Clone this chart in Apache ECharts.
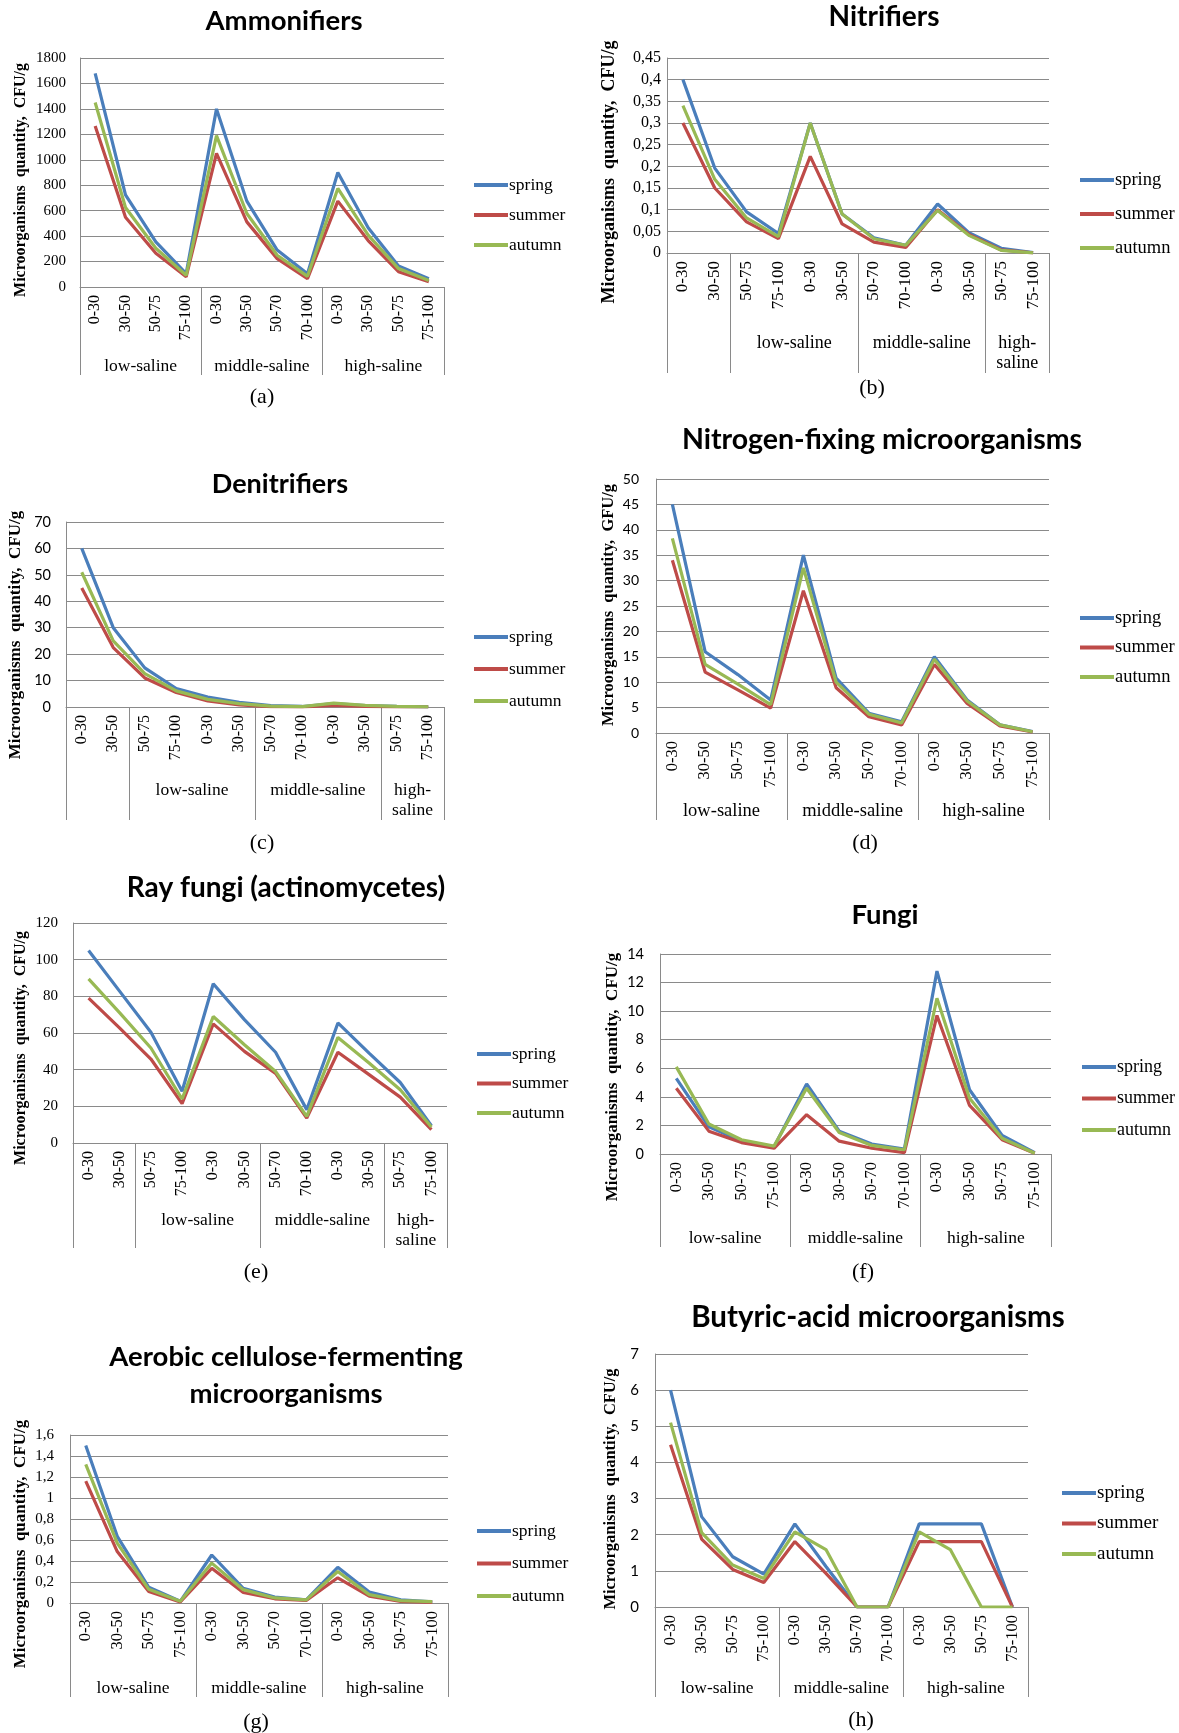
<!DOCTYPE html>
<html><head><meta charset="utf-8">
<script src="https://cdn.jsdelivr.net/npm/echarts@6/dist/echarts.min.js"></script>
<style>html,body{margin:0;padding:0;background:#fff}#c{width:1179px;height:1733px}</style>
</head><body><div id="c"></div>
<script>
// ---------- DATA ----------
const categories = ['0-30','30-50','50-75','75-100','0-30','30-50','50-70','70-100','0-30','30-50','50-75','75-100'];
const seasons = ['spring','summer','autumn'];
const seasonColors = ['#4A7EBB','#BE4B48','#98B954'];

const groupsStd = ['low-saline','middle-saline','high-saline'];
const boundsStd = [0,4,8,12];
const groupsShift = ['','low-saline','middle-saline','high-\nsaline'];
const boundsShift = [0,2,6,10,12];

const ammonifiersSpring = [1680, 725, 355, 105, 1400, 675, 290, 105, 900, 465, 165, 65];
const ammonifiersSummer = [1265, 548, 265, 80, 1050, 512, 223, 66, 675, 365, 120, 42];
const ammonifiersAutumn = [1450, 625, 305, 92, 1190, 578, 250, 84, 775, 408, 145, 52];

const nitrifiersSpring = [0.40, 0.196, 0.095, 0.045, 0.30, 0.09, 0.035, 0.018, 0.113, 0.046, 0.011, 0.001];
const nitrifiersSummer = [0.30, 0.15, 0.072, 0.033, 0.223, 0.067, 0.025, 0.013, 0.10, 0.042, 0.007, 0.0005];
const nitrifiersAutumn = [0.34, 0.17, 0.081, 0.038, 0.30, 0.09, 0.033, 0.018, 0.098, 0.04, 0.006, 0.0005];

const denitrifiersSpring = [60, 30, 14.8, 7, 3.8, 1.8, 0.5, 0.2, 1.3, 0.5, 0.2, 0.05];
const denitrifiersSummer = [45, 22.5, 11, 5.5, 2.3, 0.8, 0.1, 0, 0.6, 0.2, 0.05, 0];
const denitrifiersAutumn = [51, 25, 12.6, 6.1, 2.9, 1.3, 0.3, 0.15, 1.5, 0.6, 0.2, 0.05];

const nfixSpring = [45, 16, 11.5, 6.5, 35, 10.8, 3.9, 2.2, 15, 6.5, 1.6, 0.3];
const nfixSummer = [34, 12, 8.5, 4.9, 28, 8.9, 3.2, 1.6, 13.5, 5.8, 1.4, 0.2];
const nfixAutumn = [38.3, 13.5, 9.6, 5.6, 32.5, 10, 3.7, 2, 14.5, 6.3, 1.6, 0.25];

const rayFungiSpring = [105, 82.7, 60.4, 28.2, 86.9, 67.3, 49.5, 18.2, 65.5, 49, 33, 9.5];
const rayFungiSummer = [79, 62.7, 45.8, 21.5, 65, 50, 38, 13.6, 49.5, 37.3, 25, 7.3];
const rayFungiAutumn = [89.5, 71, 51.8, 24, 69, 53.6, 39, 14.5, 57.6, 43.6, 29, 8.7];

const fungiSpring = [5.3, 1.9, 0.9, 0.5, 4.9, 1.6, 0.7, 0.35, 12.8, 4.5, 1.3, 0.1];
const fungiSummer = [4.6, 1.6, 0.8, 0.4, 2.75, 0.9, 0.4, 0.1, 9.7, 3.4, 1.0, 0.05];
const fungiAutumn = [6.1, 2.1, 1.0, 0.55, 4.6, 1.5, 0.6, 0.3, 10.9, 3.9, 1.1, 0.05];

const celluloseSpring = [1.5, 0.635, 0.15, 0.016, 0.457, 0.14, 0.057, 0.03, 0.34, 0.105, 0.03, 0.01];
const celluloseSummer = [1.16, 0.49, 0.11, 0.01, 0.33, 0.1, 0.04, 0.025, 0.24, 0.065, 0.016, 0.006];
const celluloseAutumn = [1.32, 0.57, 0.13, 0.016, 0.38, 0.127, 0.048, 0.03, 0.3, 0.08, 0.022, 0.013];

const butyricSpring = [6, 2.5, 1.39, 0.91, 2.3, 1.12, 0, 0, 2.3, 2.3, 2.3, 0];
const butyricSummer = [4.49, 1.88, 1.04, 0.68, 1.81, 0.93, 0, 0, 1.81, 1.81, 1.81, 0];
const butyricAutumn = [5.1, 2.06, 1.16, 0.79, 2.08, 1.59, 0, 0, 2.08, 1.59, 0, 0];

const titles = [['Ammonifiers'], ['Nitrifiers'], ['Denitrifiers'], ['Nitrogen-fixing microorganisms'],
  ['Ray fungi (actinomycetes)'], ['Fungi'], ['Aerobic cellulose-fermenting','microorganisms'], ['Butyric-acid microorganisms']];
const subLabels = ['(a)','(b)','(c)','(d)','(e)','(f)','(g)','(h)'];
const yNames = ['Microorganisms  quantity,  CFU/g','Microorganisms  quantity,  CFU/g','Microorganisms  quantity,  CFU/g',
  'Microorganisms  quantity,  GFU/g','Microorganisms  quantity,  CFU/g','Microorganisms  quantity,  CFU/g',
  'Microorganisms  quantity,  CFU/g','Microorganisms  quantity,  CFU/g'];
const yMaxes = [1800, 0.45, 70, 50, 120, 14, 1.6, 7];
const ySteps = [200, 0.05, 10, 5, 20, 2, 0.2, 1];

// ---------- LAYOUT ----------
const SERIF = 'Liberation Serif';
const SANS = 'Lato';
const GRAY = '#8a8a8a';

const panels = [
  {data:[ammonifiersSpring, ammonifiersSummer, ammonifiersAutumn], groups:groupsStd, bounds:boundsStd, yFont:SERIF, ySize:15,
   grid:{left:80, top:58, width:364, height:229}, boxH:88, gMargin:69, yMargin:14, catSize:16, gSize:17.5,
   title:{x:284, y:[21], size:27.5}, name:{x:21, y:180, size:16}, legend:{x:469, y:182, gap:30, size:17.5}, sub:{x:262, y:397}},
  {data:[nitrifiersSpring, nitrifiersSummer, nitrifiersAutumn], groups:groupsShift, bounds:boundsShift, yFont:SERIF, ySize:16,
   grid:{left:667, top:58, width:382, height:195}, boxH:120, gMargin:80, yMargin:6, catSize:17, gSize:18,
   title:{x:884, y:[17], size:28}, name:{x:609, y:172, size:18}, legend:{x:1075, y:177, gap:34, size:18.5}, sub:{x:872, y:388}},
  {data:[denitrifiersSpring, denitrifiersSummer, denitrifiersAutumn], groups:groupsShift, bounds:boundsShift, yFont:SANS, ySize:14.5,
   grid:{left:66, top:522, width:378, height:185}, boxH:113, gMargin:73, yMargin:15, catSize:16, gSize:17.5,
   title:{x:280, y:[484], size:27}, name:{x:16, y:635, size:17}, legend:{x:469, y:634, gap:32, size:17.5}, sub:{x:262, y:843}},
  {data:[nfixSpring, nfixSummer, nfixAutumn], groups:groupsStd, bounds:boundsStd, yFont:SANS, ySize:14,
   grid:{left:656, top:479, width:393, height:254}, boxH:87, gMargin:68, yMargin:17, catSize:16.5, gSize:18.5,
   title:{x:882, y:[440], size:28.5}, name:{x:609, y:605, size:16.5}, legend:{x:1075, y:615, gap:29.5, size:18.5}, sub:{x:865, y:843}},
  {data:[rayFungiSpring, rayFungiSummer, rayFungiAutumn], groups:groupsShift, bounds:boundsShift, yFont:SERIF, ySize:15,
   grid:{left:73, top:923, width:374, height:220}, boxH:105, gMargin:67, yMargin:15, catSize:16, gSize:17.5,
   title:{x:286, y:[888], size:28}, name:{x:21, y:1048, size:16}, legend:{x:472, y:1051, gap:29.5, size:17.5}, sub:{x:256, y:1272}},
  {data:[fungiSpring, fungiSummer, fungiAutumn], groups:groupsStd, bounds:boundsStd, yFont:SANS, ySize:14.5,
   grid:{left:660, top:954, width:391, height:200}, boxH:93, gMargin:74, yMargin:16, catSize:16.5, gSize:17.5,
   title:{x:885, y:[915], size:27.5}, name:{x:613, y:1077, size:17}, legend:{x:1077, y:1064, gap:31.5, size:18}, sub:{x:863, y:1272}},
  {data:[celluloseSpring, celluloseSummer, celluloseAutumn], groups:groupsStd, bounds:boundsStd, yFont:SERIF, ySize:15,
   grid:{left:70, top:1435, width:378, height:168}, boxH:94, gMargin:75, yMargin:16, catSize:16.5, gSize:17.5,
   title:{x:286, y:[1357, 1394], size:27.5}, name:{x:21, y:1544, size:17}, legend:{x:472, y:1528, gap:32.5, size:17.5}, sub:{x:256, y:1722}},
  {data:[butyricSpring, butyricSummer, butyricAutumn], groups:groupsStd, bounds:boundsStd, yFont:SANS, ySize:15,
   grid:{left:655, top:1354, width:373, height:253}, boxH:90, gMargin:71, yMargin:16, catSize:16.5, gSize:17.5,
   title:{x:878, y:[1317], size:29.5}, name:{x:611, y:1489, size:16.5}, legend:{x:1057, y:1490, gap:30.5, size:19}, sub:{x:861, y:1720}}
];

const fmt = v => String(+(+v).toFixed(3)).replace('.', ',');

const option = {animation:false, backgroundColor:'#fff', grid:[], xAxis:[], yAxis:[], series:[], legend:[], graphic:[]};

panels.forEach((p, i) => {
  option.grid.push(Object.assign({containLabel:false}, p.grid));
  option.xAxis.push({
    type:'category', gridIndex:i, data:categories, boundaryGap:true,
    axisLine:{show:true, lineStyle:{color:GRAY, width:1}},
    axisTick:{show:false}, splitLine:{show:false},
    axisLabel:{interval:0, rotate:90, margin:8, fontFamily:SERIF, fontSize:p.catSize, color:'#000'}
  });
  const centers = [];
  const names = {};
  for (let k = 0; k < p.bounds.length - 1; k++) {
    const c = (p.bounds[k] + p.bounds[k+1]) / 2;
    centers.push(c); names[c] = p.groups[k];
  }
  option.xAxis.push({
    type:'value', gridIndex:i, min:0, max:12, position:'bottom',
    axisLine:{show:false}, splitLine:{show:false},
    axisTick:{show:true, customValues:p.bounds, length:p.boxH, lineStyle:{color:GRAY, width:1}},
    axisLabel:{show:true, customValues:centers, formatter:v => names[v] || '', margin:p.gMargin,
      fontFamily:SERIF, fontSize:p.gSize, lineHeight:20, color:'#000', verticalAlign:'top'}
  });
  option.yAxis.push({
    type:'value', gridIndex:i, min:0, max:yMaxes[i], interval:ySteps[i],
    axisLine:{show:true, lineStyle:{color:GRAY, width:1}}, axisTick:{show:false},
    splitLine:{show:true, lineStyle:{color:GRAY, width:1}},
    axisLabel:{formatter:fmt, margin:p.yMargin, fontFamily:p.yFont, fontSize:p.ySize, color:'#000'}
  });
  seasons.forEach((s, j) => {
    option.series.push({
      type:'line', name:s, xAxisIndex:2*i, yAxisIndex:i, data:p.data[j],
      color:seasonColors[j], symbol:'none', showSymbol:false,
      lineStyle:{width:3.2, color:seasonColors[j]}, z:2+j
    });
  });
  option.legend.push({
    orient:'vertical', left:p.legend.x, top:p.legend.y - 12, icon:'rect', itemWidth:34, itemHeight:4,
    itemGap:p.legend.gap - 20, selectedMode:false, data:seasons,
    textStyle:{fontFamily:SERIF, fontSize:p.legend.size, lineHeight:20, color:'#000', padding:[0,0,0,-4]}
  });
  titles[i].forEach((t, k) => {
    option.graphic.push({type:'text', x:p.title.x, y:p.title.y[k],
      style:{text:t, font:'bold ' + p.title.size + 'px ' + SANS, fill:'#000', align:'center', verticalAlign:'middle'}});
  });
  option.graphic.push({type:'text', x:p.sub.x, y:p.sub.y,
    style:{text:subLabels[i], font:'22px ' + SERIF, fill:'#000', align:'center', verticalAlign:'middle'}});
  option.graphic.push({type:'text', x:p.name.x, y:p.name.y, rotation:Math.PI/2,
    style:{text:yNames[i], font:'bold ' + p.name.size + 'px ' + SERIF, fill:'#000', align:'center', verticalAlign:'middle'}});
});

const chart = echarts.init(document.getElementById('c'), null, {renderer:'canvas'});
chart.setOption(option);
</script>
</body></html>
